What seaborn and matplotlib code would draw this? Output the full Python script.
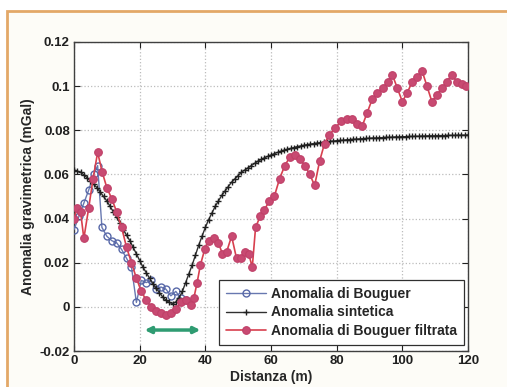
import numpy as np
import pandas as pd
import matplotlib
matplotlib.use("Agg")
import matplotlib.pyplot as plt
from matplotlib.patches import Rectangle
import seaborn as sns

# Distance along the profile (m) and anomaly values (mGal)
dist_bouguer = [0.0, 1.5, 3.0, 4.5, 6.0, 7.2, 8.5, 10.0, 11.5, 13.0, 14.5, 16.0,
                17.5, 19.0, 20.5, 22.0, 23.5, 25.0, 26.5, 28.0, 29.5, 31.0, 32.5, 34.0]
anom_bouguer = [0.035, 0.041, 0.047, 0.053, 0.060, 0.064, 0.036, 0.032, 0.030, 0.029,
                0.026, 0.022, 0.018, 0.002, 0.012, 0.011, 0.012, 0.008, 0.009, 0.008,
                0.005, 0.007, 0.004, 0.003]

dist_synth = list(range(0, 121))
anom_synth = [
    0.0620, 0.0615, 0.0610, 0.0598, 0.0585, 0.0570, 0.0555, 0.0540, 0.0520, 0.0500,
    0.0480, 0.0455, 0.0430, 0.0405, 0.0380, 0.0350, 0.0325, 0.0300, 0.0270, 0.0240,
    0.0210, 0.0180, 0.0155, 0.0130, 0.0105, 0.0085, 0.0065, 0.0045, 0.0030, 0.0020,
    0.0015, 0.0022, 0.0040, 0.0070, 0.0110, 0.0150, 0.0190, 0.0235, 0.0280, 0.0320,
    0.0360, 0.0395, 0.0425, 0.0455, 0.0480, 0.0505, 0.0525, 0.0545, 0.0565, 0.0580,
    0.0595, 0.0610, 0.0620, 0.0630, 0.0640, 0.0650, 0.0660, 0.0668, 0.0675, 0.0682,
    0.0688, 0.0694, 0.0700, 0.0705, 0.0710, 0.0714, 0.0718, 0.0722, 0.0726, 0.0729,
    0.0732, 0.0735, 0.0737, 0.0740, 0.0742, 0.0744, 0.0746, 0.0748, 0.0750, 0.0751,
    0.0753, 0.0754, 0.0755, 0.0757, 0.0758, 0.0759, 0.0760, 0.0761, 0.0762, 0.0763,
    0.0764, 0.0765, 0.0765, 0.0766, 0.0767, 0.0768, 0.0768, 0.0769, 0.0770, 0.0770,
    0.0771, 0.0771, 0.0772, 0.0772, 0.0773, 0.0773, 0.0774, 0.0774, 0.0775, 0.0775,
    0.0775, 0.0776, 0.0776, 0.0776, 0.0777, 0.0777, 0.0777, 0.0778, 0.0778, 0.0778,
    0.0779,
]

dist_filtered = [0.0, 1.0, 2.0, 3.0, 4.5, 5.8, 7.2, 8.6, 10.0, 11.5, 13.0, 14.5, 16.0,
                 17.5, 19.0, 20.5, 22.0, 23.5, 25.0, 26.5, 28.0, 29.5, 31.0, 32.5, 34.0,
                 35.5, 36.5, 37.5, 38.5, 39.8, 41.0, 42.5, 44.0, 45.2, 46.5, 48.0, 49.5,
                 50.8, 52.0, 53.2, 54.3, 55.3, 56.7, 58.0, 59.5, 61.0, 62.6, 64.2, 65.8,
                 67.3, 68.8, 70.3, 71.8, 73.3, 74.8, 76.3, 77.8, 79.5, 81.3, 83.0, 84.8,
                 86.3, 87.8, 89.3, 90.8, 92.4, 94.0, 95.5, 97.0, 98.5, 100.0, 101.5,
                 103.0, 104.5, 106.0, 107.5, 109.0, 110.5, 112.0, 113.5, 115.0, 116.7,
                 118.3, 119.5]
anom_filtered = [0.040, 0.045, 0.043, 0.031, 0.045, 0.058, 0.070, 0.061, 0.054, 0.049,
                 0.043, 0.036, 0.027, 0.020, 0.013, 0.007, 0.003, 0.000, -0.002, -0.003,
                 -0.0035, -0.003, -0.001, 0.002, 0.003, 0.001, 0.004, 0.011, 0.019, 0.026,
                 0.030, 0.031, 0.029, 0.024, 0.025, 0.032, 0.022, 0.022, 0.025, 0.024,
                 0.018, 0.036, 0.041, 0.044, 0.048, 0.050, 0.058, 0.064, 0.068, 0.069,
                 0.067, 0.064, 0.060, 0.055, 0.066, 0.074, 0.078, 0.081, 0.084, 0.085,
                 0.085, 0.083, 0.082, 0.088, 0.094, 0.097, 0.099, 0.102, 0.105, 0.099,
                 0.093, 0.097, 0.102, 0.104, 0.107, 0.100, 0.093, 0.096, 0.099, 0.102,
                 0.105, 0.102, 0.101, 0.100]

labels = ["Anomalia di Bouguer", "Anomalia sintetica", "Anomalia di Bouguer filtrata"]
x_ticks = [0, 20, 40, 60, 80, 100, 120]
y_ticks = [-0.02, 0, 0.02, 0.04, 0.06, 0.08, 0.1, 0.12]
y_ticklabels = ["-0.02", "0", "0.02", "0.04", "0.06", "0.08", "0.1", "0.12"]

# extent of the cavity marked below the minimum
cavity_span = [21.5, 38.5]
cavity_level = -0.0105

sns.set_theme(style="ticks")
plt.rcParams["font.family"] = ["Liberation Sans", "DejaVu Sans"]
plt.rcParams["font.weight"] = "bold"

fig = plt.figure(figsize=(5.07, 3.87), dpi=100, facecolor="white")
# cream panel with an orange edge along the left and top sides
frame = Rectangle((7 / 507, -0.05), 1.2, 1 - 11 / 387 + 0.05,
                  transform=fig.transFigure, facecolor="#fdfcf7",
                  edgecolor="#e3a868", linewidth=2.0, zorder=-5)
fig.patches.append(frame)
ax = fig.add_axes([74 / 507, 1 - 351 / 387, (468 - 74) / 507, (351 - 42) / 387])
ax.set_zorder(2)
ax.set_facecolor("white")

df_b = pd.DataFrame({"d": dist_bouguer, "a": anom_bouguer})
df_s = pd.DataFrame({"d": dist_synth, "a": anom_synth})
df_f = pd.DataFrame({"d": dist_filtered, "a": anom_filtered})

sns.lineplot(data=df_b, x="d", y="a", ax=ax, sort=False, color="#6878b0", lw=1.0,
             marker="o", markersize=5, markerfacecolor="none",
             markeredgecolor="#5868a8", markeredgewidth=1.0, label=labels[0], zorder=3)
sns.lineplot(data=df_s, x="d", y="a", ax=ax, sort=False, color="#303030", lw=1.0,
             marker="+", markersize=5, markeredgewidth=1.0,
             markeredgecolor="#202020", label=labels[1], zorder=4)
sns.lineplot(data=df_f, x="d", y="a", ax=ax, sort=False, color="#d8404e", lw=1.2,
             marker="o", markersize=5.5, markerfacecolor="#c84a72",
             markeredgecolor="#c04068", markeredgewidth=0.8, label=labels[2], zorder=5)

ax.annotate("", xy=(cavity_span[1], cavity_level), xytext=(cavity_span[0], cavity_level),
            arrowprops=dict(arrowstyle="<|-|>", color="#2f9c72", lw=2.5,
                            mutation_scale=9, shrinkA=0, shrinkB=0), zorder=6)

ax.set_xlim(0, 120)
ax.set_ylim(-0.02, 0.12)
ax.set_xticks(x_ticks)
ax.set_yticks(y_ticks)
ax.set_yticklabels(y_ticklabels)
ax.tick_params(direction="in", length=4, width=0.8, top=True, right=True,
               labelsize=9.5, colors="#202020", pad=3)
ax.grid(True, color="#bcbcbc", linestyle=":", linewidth=0.9)
for s in ax.spines.values():
    s.set_color("#404040")
    s.set_linewidth(1.0)

ax.set_xlabel("Distanza (m)", fontsize=10, fontweight="bold", labelpad=2)
ax.set_ylabel("Anomalia gravimetrica (mGal)", fontsize=10, fontweight="bold", labelpad=3)

leg = ax.legend(loc="lower right", bbox_to_anchor=(0.996, 0.012), fontsize=10,
                frameon=True, fancybox=False, edgecolor="#303030", framealpha=1,
                borderpad=0.45, labelspacing=0.35, handlelength=2.9, handletextpad=0.4,
                borderaxespad=0.2)
leg.get_frame().set_linewidth(0.9)
for t in leg.get_texts():
    t.set_fontweight("bold")

fig.savefig("out.png", dpi=100, facecolor=fig.get_facecolor())
